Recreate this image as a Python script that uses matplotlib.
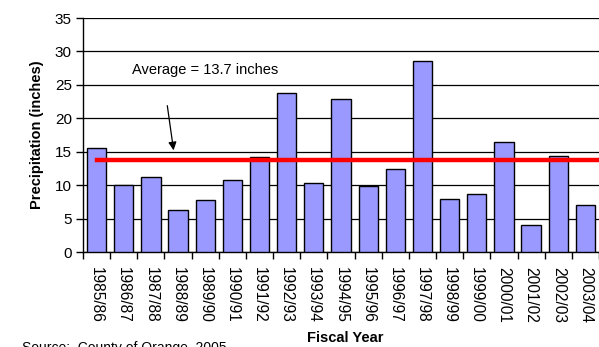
import matplotlib
matplotlib.use("Agg")
import matplotlib.pyplot as plt
import numpy as np

years = ["1985/86", "1986/87", "1987/88", "1988/89", "1989/90", "1990/91", "1991/92",
         "1992/93", "1993/94", "1994/95", "1995/96", "1996/97", "1997/98", "1998/99",
         "1999/00", "2000/01", "2001/02", "2002/03", "2003/04"]
precip = [15.6, 10.0, 11.2, 6.3, 7.8, 10.7, 14.2, 23.8, 10.3, 22.9, 9.9, 12.4, 28.6,
          7.9, 8.7, 16.4, 4.1, 14.4, 7.0]
average = 13.7
yticks = [0, 5, 10, 15, 20, 25, 30, 35]

plt.rcParams['font.family'] = ['Liberation Sans', 'DejaVu Sans']

fig = plt.figure(figsize=(5.99, 3.47), dpi=100)
ax = fig.add_axes([83/599, 1-252/347, (599-83)/599, 234/347])

x = np.arange(len(years))
ax.bar(x, precip, width=0.71, color='#9999FF', edgecolor='black', linewidth=1.0, zorder=3)
ax.set_xlim(-0.5, len(years) - 0.5)
ax.set_ylim(0, 35)
ax.set_yticks(yticks)
ax.yaxis.grid(True, color='black', linewidth=0.9, zorder=0)
ax.set_axisbelow(True)

ax.plot([0, len(years) + 1], [average, average], color='#FF0000', linewidth=3.2, zorder=4,
        clip_on=True)

ax.set_xticks(x)
ax.set_xticklabels(years, rotation=270, fontsize=11.2)
ax.set_xticks(np.arange(-0.5, len(years) + 0.5, 1), minor=True)
ax.tick_params(axis='x', which='major', length=0, pad=11)
ax.tick_params(axis='x', which='minor', length=5, width=1, direction='out')
ax.tick_params(axis='y', length=5, width=1, labelsize=11, pad=3)

for s in ['top', 'right']:
    ax.spines[s].set_visible(False)
ax.spines['left'].set_linewidth(1)
ax.spines['bottom'].set_linewidth(1)

ax.annotate('', xy=(2.85, 14.8), xytext=(2.59, 22.3),
            arrowprops=dict(arrowstyle='-|>', color='black', lw=0.9, mutation_scale=12))
ax.text(4.0, 27.2, 'Average = 13.7 inches', fontsize=10.5, ha='center', va='center')

fig.text(37/599, 1-135/347, 'Precipitation (inches)', rotation=90, fontsize=10.5,
         fontweight='bold', ha='center', va='center')
fig.text(345/599, 1-338/347, 'Fiscal Year', fontsize=10.5, fontweight='bold',
         ha='center', va='center')
fig.text(22/599, 1-341/347, 'Source:  County of Orange, 2005', fontsize=10,
         ha='left', va='top')

fig.savefig('out.png', dpi=100)
